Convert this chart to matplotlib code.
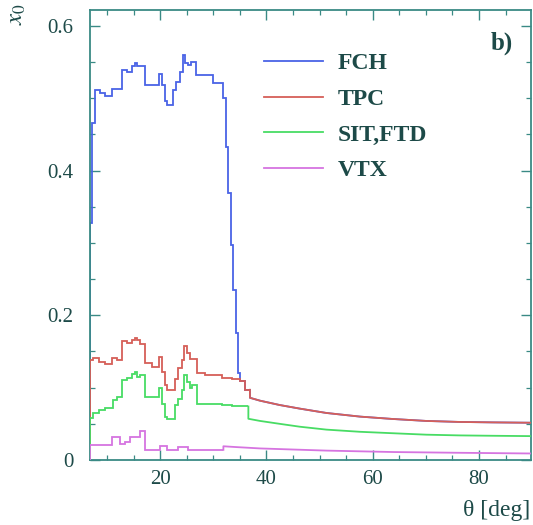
import numpy as np
import matplotlib.pyplot as plt
from matplotlib.lines import Line2D

plt.rcParams['font.family'] = 'serif'
plt.rcParams['font.serif'] = ['Liberation Serif', 'Times New Roman', 'DejaVu Serif']
plt.rcParams['mathtext.fontset'] = 'stix'
plt.rcParams['xtick.direction'] = 'in'
plt.rcParams['ytick.direction'] = 'in'

# material budget x0 vs polar angle (deg), histogram part + smooth tail
fch_edges = [6.8, 7.15, 7.75, 8.7, 9.7, 10.9, 12.9, 13.8, 14.7, 15.2, 15.6, 17.1,
             19.8, 20.3, 20.9, 21.3, 22.5, 23.0, 23.7, 24.3, 24.7, 25.3, 25.8,
             26.8, 30.0, 31.9, 32.4, 32.8, 33.3, 33.8, 34.2, 34.6, 35.0]
fch_values = [0.328, 0.466, 0.512, 0.507, 0.503, 0.513, 0.539, 0.537, 0.544,
              0.549, 0.544, 0.519, 0.533, 0.519, 0.496, 0.491, 0.512, 0.523,
              0.536, 0.560, 0.549, 0.546, 0.550, 0.532, 0.521, 0.500, 0.433,
              0.369, 0.297, 0.235, 0.175, 0.120]

tpc_edges = [6.8, 7.45, 8.4, 9.7, 11.0, 11.8, 12.8, 13.7, 14.7, 15.2, 15.6, 16.2,
             17.2, 18.5, 19.8, 20.3, 20.9, 21.2, 22.8, 23.4, 24.1, 24.5, 25.0,
             25.6, 26.9, 28.5, 31.6, 33.5, 35.0, 36.0, 36.9]
tpc_values = [0.138, 0.141, 0.136, 0.133, 0.141, 0.138, 0.164, 0.162, 0.166,
              0.169, 0.166, 0.161, 0.134, 0.129, 0.143, 0.122, 0.104, 0.097,
              0.112, 0.127, 0.138, 0.157, 0.148, 0.140, 0.120, 0.117, 0.114,
              0.112, 0.109, 0.097]
tpc_tail_theta = [36.9, 38.8, 42.5, 46.3, 51.3, 57.6, 63.8, 70.1, 76.4, 82.6, 90.0]
tpc_tail = [0.086, 0.082, 0.076, 0.071, 0.065, 0.060, 0.0567, 0.054, 0.0526, 0.052, 0.0515]

sit_edges = [6.8, 7.45, 8.4, 9.7, 11.2, 11.8, 12.8, 13.7, 14.7, 15.2, 15.6, 16.2,
             17.2, 19.8, 20.3, 20.9, 21.2, 22.8, 23.4, 24.1, 24.5, 25.0, 25.6,
             26.0, 26.9, 31.6, 33.5, 36.6]
sit_values = [0.058, 0.065, 0.069, 0.0715, 0.083, 0.087, 0.111, 0.113, 0.119,
              0.122, 0.115, 0.117, 0.087, 0.100, 0.078, 0.060, 0.056, 0.076,
              0.085, 0.097, 0.117, 0.108, 0.100, 0.104, 0.078, 0.076, 0.074]
sit_tail_theta = [36.6, 38.8, 42.5, 46.3, 51.3, 57.6, 63.8, 70.1, 76.4, 82.6, 90.0]
sit_tail = [0.057, 0.054, 0.050, 0.046, 0.042, 0.039, 0.037, 0.035, 0.034, 0.0335, 0.033]

vtx_edges = [6.8, 10.9, 12.5, 13.4, 14.3, 16.2, 17.2, 20.0, 21.2, 23.4, 25.3, 31.9]
vtx_values = [0.021, 0.032, 0.022, 0.025, 0.032, 0.040, 0.014, 0.019, 0.014, 0.018, 0.014]
vtx_tail_theta = [31.9, 34.0, 38.8, 45.0, 51.3, 57.6, 64.0, 76.0, 90.0]
vtx_tail = [0.019, 0.018, 0.016, 0.0145, 0.013, 0.012, 0.011, 0.010, 0.009]

labels = ['FCH', 'TPC', 'SIT,FTD', 'VTX']
colors = ['#4a63e6', '#d65f58', '#48dc64', '#d674e0']

ink = '#1d4a48'
frame = '#3a8a85'

fig = plt.figure(figsize=(5.33, 5.25), dpi=100)
ax = fig.add_axes([0.1689, 0.1238, 0.8274, 0.8571])


def draw(edges, values, tail_x, tail_y, color, z):
    ax.stairs(values, edges, baseline=None, color=color, lw=1.3, zorder=z)
    ax.vlines(edges[0], 0, values[0], color=color, lw=1.3, zorder=z)
    if tail_x is not None:
        ax.plot([edges[-1]] + tail_x, [values[-1]] + tail_y, color=color, lw=1.3, zorder=z)


# FCH follows the TPC curve beyond 35 deg
k = tpc_edges.index(35.0)
draw(fch_edges + tpc_edges[k + 1:], fch_values + tpc_values[k:],
     tpc_tail_theta, tpc_tail, colors[0], 2)
draw(tpc_edges, tpc_values, tpc_tail_theta, tpc_tail, colors[1], 3)
draw(sit_edges, sit_values, sit_tail_theta, sit_tail, colors[2], 3)
draw(vtx_edges, vtx_values, vtx_tail_theta, vtx_tail, colors[3], 3)

ax.set_xlim(6.8, 89.8)
ax.set_ylim(0, 0.622)
ax.set_xticks([20, 40, 60, 80])
ax.set_xticks(np.arange(10, 90, 5), minor=True)
ax.set_yticks([0, 0.2, 0.4, 0.6])
ax.set_yticklabels(['0', '0.2', '0.4', '0.6'])
ax.set_yticks(np.arange(0, 0.62, 0.05), minor=True)
ax.tick_params(which='both', top=True, right=True, color=frame, labelcolor=ink,
               labelsize=15)
ax.tick_params(which='major', length=7, width=1.0)
ax.tick_params(which='minor', length=3.6, width=0.9)
ax.tick_params(axis='y', pad=12)
ax.tick_params(axis='x', pad=7)
for s in ax.spines.values():
    s.set_color(frame)
    s.set_linewidth(1.3)

handles = [Line2D([], [], color=c, lw=1.3) for c in colors]
leg = ax.legend(handles, labels, loc='upper left', bbox_to_anchor=(0.395, 0.905),
                frameon=False, handlelength=2.5, handletextpad=0.6,
                labelspacing=0.6, borderpad=0, borderaxespad=0,
                prop={'weight': 'bold', 'size': 17})
for t in leg.get_texts():
    t.set_color(ink)

ax.text(0.959, 0.952, 'b)', transform=ax.transAxes, ha='right', va='top',
        fontsize=18, fontweight='bold', color=ink)
fig.text(0.995, 0.008, 'θ [deg]', ha='right', va='bottom', fontsize=17, color=ink)
fig.text(0.032, 0.995, r'$x_0$', rotation=90, ha='center', va='top', fontsize=18, color=ink)

fig.savefig('out.png', dpi=100)
